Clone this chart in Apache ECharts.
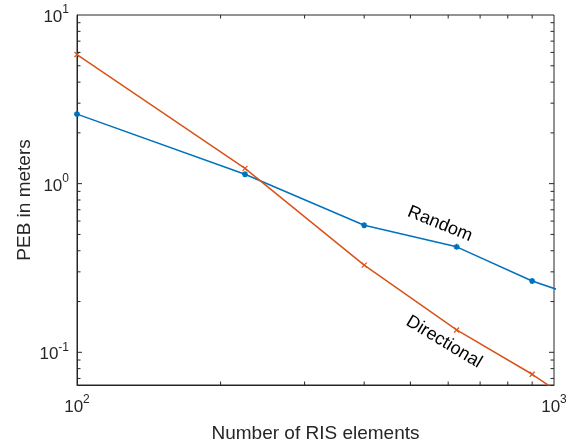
<!DOCTYPE html>
<html>
<head>
<meta charset="utf-8">
<script src="https://cdn.jsdelivr.net/npm/echarts@6/dist/echarts.min.js"></script>
<style>html,body{margin:0;padding:0;background:#fff;}#c{width:566px;height:443px;}</style>
</head>
<body>
<div id="c"></div>
<script>
// ---- data ----
const risElements = [100, 225, 400, 625, 900, 1225];
const randomPEB = [2.585, 1.137, 0.567, 0.422, 0.2646, 0.197];
const directionalPEB = [5.83, 1.233, 0.329, 0.1357, 0.0741, 0.041];
const xTickValues = [200, 300, 400, 500, 600, 700, 800, 900];
const yMajorTickValues = [0.1, 1];
const yMinorTickValues = [0.07, 0.08, 0.09, 0.2, 0.3, 0.4, 0.5, 0.6, 0.7, 0.8, 0.9, 2, 3, 4, 5, 6, 7, 8, 9];
const xMin = 100, xMax = 1000, yMin = 0.064, yMax = 10;

const FONT = 'Liberation Sans, Arial, Helvetica, sans-serif';
const AX = '#262626';

function powLabel(v) {
  const l = Math.log10(v);
  const e = Math.round(l);
  if (Math.abs(l - e) > 1e-6) return '';
  return '{b|10}{s|' + e + '}';
}
const richLab = {
  b: { fontSize: 17, fontFamily: FONT, color: AX, lineHeight: 22, verticalAlign: 'bottom' },
  s: { fontSize: 12, fontFamily: FONT, color: AX, lineHeight: 22, verticalAlign: 'top' }
};

const chart = echarts.init(document.getElementById('c'), null, { renderer: 'canvas' });

function xTickRender(params, api) {
  const v = api.value(0);
  const pb = api.coord([v, yMin]);
  const pt = api.coord([v, yMax]);
  const len = 3.5;
  return { type: 'group', children: [
    { type: 'line', shape: { x1: pb[0], y1: pb[1], x2: pb[0], y2: pb[1] - len }, style: { stroke: AX, lineWidth: 1 } },
    { type: 'line', shape: { x1: pt[0], y1: pt[1], x2: pt[0], y2: pt[1] + len }, style: { stroke: AX, lineWidth: 1 } }
  ]};
}
function yTickRender(len) {
  return function (params, api) {
    const v = api.value(1);
    const pl = api.coord([xMin, v]);
    const pr = api.coord([xMax, v]);
    return { type: 'group', children: [
      { type: 'line', shape: { x1: pl[0], y1: pl[1], x2: pl[0] + len, y2: pl[1] }, style: { stroke: AX, lineWidth: 1 } },
      { type: 'line', shape: { x1: pr[0], y1: pr[1], x2: pr[0] - len, y2: pr[1] }, style: { stroke: AX, lineWidth: 1 } }
    ]};
  };
}

const asterisk = 'path://M5,0L5,10M0,5L10,5M1.5,1.5L8.5,8.5M8.5,1.5L1.5,8.5';
const cross = 'path://M0,0L10,10M10,0L0,10';

chart.setOption({
  animation: false,
  backgroundColor: '#ffffff',
  grid: { left: 77, right: 12, top: 15, bottom: 58, show: true, borderColor: AX, borderWidth: 1, backgroundColor: 'transparent', outerBoundsMode: 'none', containLabel: false },
  xAxis: {
    type: 'log', logBase: 10, min: xMin, max: xMax,
    name: 'Number of RIS elements', nameLocation: 'middle', nameGap: 39, nameMoveOverlap: false,
    nameTextStyle: { fontSize: 19, fontFamily: FONT, color: AX },
    axisLine: { show: true, lineStyle: { color: AX, width: 1 } },
    axisTick: { show: false },
    splitLine: { show: false },
    axisLabel: { formatter: powLabel, rich: richLab, margin: 9, showMinLabel: true, showMaxLabel: true }
  },
  yAxis: {
    type: 'log', logBase: 10, min: yMin, max: yMax,
    name: 'PEB in meters', nameLocation: 'middle', nameGap: 43, nameRotate: 90, nameMoveOverlap: false,
    nameTextStyle: { fontSize: 19, fontFamily: FONT, color: AX },
    axisLine: { show: true, lineStyle: { color: AX, width: 1 } },
    axisTick: { show: false },
    splitLine: { show: false },
    axisLabel: { formatter: powLabel, rich: richLab, margin: 8, showMinLabel: true, showMaxLabel: true }
  },
  series: [
    {
      name: 'Random', type: 'line',
      data: risElements.map((x, i) => [x, randomPEB[i]]),
      lineStyle: { color: '#0072BD', width: 1.5 },
      itemStyle: { color: '#0072BD', borderColor: '#0072BD', borderWidth: 1.6 },
      symbol: asterisk, symbolSize: 6, showSymbol: true, clip: true, z: 3
    },
    {
      name: 'Directional', type: 'line',
      data: risElements.map((x, i) => [x, directionalPEB[i]]),
      lineStyle: { color: '#D95319', width: 1.5 },
      itemStyle: { color: '#D95319', borderColor: '#D95319', borderWidth: 1.2 },
      symbol: cross, symbolSize: 5, showSymbol: true, clip: true, z: 3
    },
    {
      type: 'custom', renderItem: xTickRender, clip: false, silent: true,
      data: xTickValues.map(v => [v, yMin]), z: 4
    },
    {
      type: 'custom', renderItem: yTickRender(5), clip: false, silent: true,
      data: yMajorTickValues.map(v => [xMin, v]), z: 4
    },
    {
      type: 'custom', renderItem: yTickRender(3.5), clip: false, silent: true,
      data: yMinorTickValues.map(v => [xMin, v]), z: 4
    }
  ],
  graphic: [
    { type: 'text', x: 440, y: 224, rotation: -22 * Math.PI / 180,
      style: { text: 'Random', fontSize: 18, fontFamily: FONT, fill: '#000', align: 'center', verticalAlign: 'middle' }, z: 10 },
    { type: 'text', x: 444, y: 342, rotation: -31 * Math.PI / 180,
      style: { text: 'Directional', fontSize: 18, fontFamily: FONT, fill: '#000', align: 'center', verticalAlign: 'middle' }, z: 10 }
  ]
});
</script>
</body>
</html>
